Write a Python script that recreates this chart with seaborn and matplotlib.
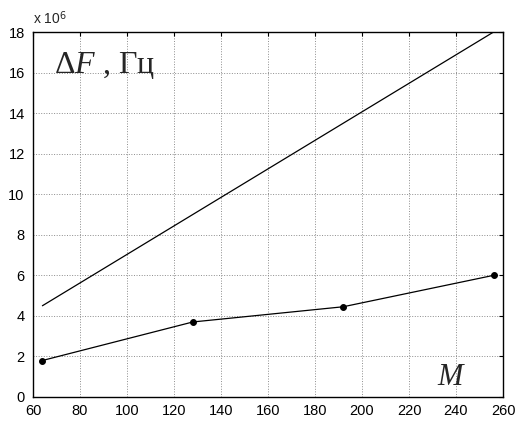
import pandas as pd
import matplotlib
matplotlib.use("Agg")
import matplotlib.pyplot as plt
import seaborn as sns

# значения по оси M
M_UPPER = [64, 256]
DF_UPPER = [4.5e6, 18.0e6]

M_LOWER = [64, 128, 192, 256]
DF_LOWER = [1.8e6, 3.7e6, 4.45e6, 6.0e6]

X_TICKS = list(range(60, 261, 20))
Y_TICKS = list(range(0, 19, 2))

SCALE = 1e6


def main():
    sns.set_style("white")
    plt.rcParams["font.family"] = ["Liberation Sans", "DejaVu Sans"]
    plt.rcParams["mathtext.fontset"] = "custom"
    plt.rcParams["mathtext.rm"] = "Liberation Serif"
    plt.rcParams["mathtext.it"] = "Liberation Serif:italic"

    up = pd.DataFrame({"M": M_UPPER, "dF": [v / SCALE for v in DF_UPPER]})
    lo = pd.DataFrame({"M": M_LOWER, "dF": [v / SCALE for v in DF_LOWER]})

    fig = plt.figure(figsize=(5.19, 4.21), dpi=100)
    ax = fig.add_axes([33 / 519, 1 - 397 / 421, 470 / 519, 365 / 421])

    sns.lineplot(data=up, x="M", y="dF", ax=ax, color="black", lw=0.9)
    sns.lineplot(data=lo, x="M", y="dF", ax=ax, color="black", lw=0.9,
                 marker="o", markersize=4.2, markeredgecolor="black")

    ax.set_xlim(60, 260)
    ax.set_ylim(0, 18)
    ax.set_xticks(X_TICKS)
    ax.set_yticks(Y_TICKS)
    ax.set_xlabel("")
    ax.set_ylabel("")
    ax.grid(True, color="#8c8c8c", linestyle=":", linewidth=0.7)
    ax.tick_params(direction="in", length=3, width=0.8, labelsize=10.5,
                   top=True, right=True, colors="black")
    ax.tick_params(axis="x", pad=5)
    ax.tick_params(axis="y", pad=6)
    for sp in ax.spines.values():
        sp.set_color("black")
        sp.set_linewidth(1.0)

    ax.text(0.0, 1.015, r"x 10$^{\mathsf{6}}$", transform=ax.transAxes,
            fontsize=10, ha="left", va="bottom")
    ax.text(69.0, 16.0, r"$\Delta F$ , Гц", fontsize=23,
            family="Liberation Serif", ha="left", va="baseline")
    ax.text(232, 0.6, r"$M$", fontsize=22, ha="left", va="baseline")

    fig.savefig("out.png", dpi=100)
    plt.close(fig)


if __name__ == "__main__":
    main()
